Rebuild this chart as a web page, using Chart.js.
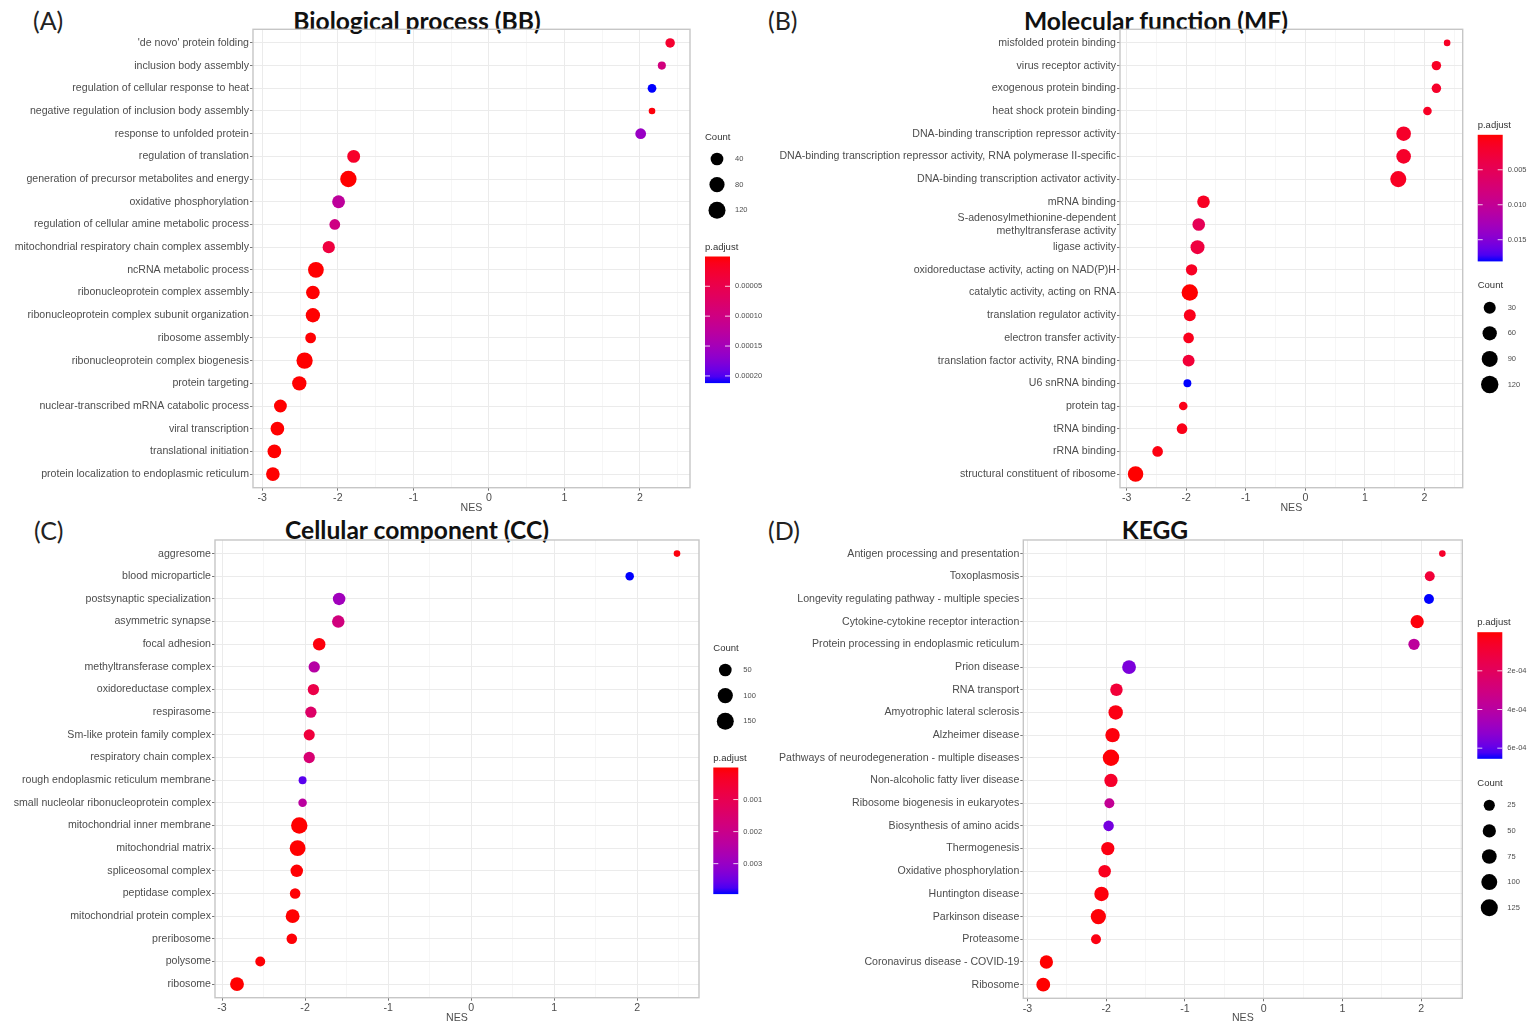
<!DOCTYPE html>
<html>
<head>
<meta charset="utf-8">
<script src="https://cdn.jsdelivr.net/npm/chart.js@4.4.1/dist/chart.umd.min.js"></script>
<style>
  body { margin: 0; background: #fff; width: 1532px; height: 1027px; position: relative; overflow: hidden; }
  canvas { position: absolute; }
  .tag { position: absolute; font-family: Lato, sans-serif; font-size: 25px; color: #222; transform: translateY(-50%); white-space: nowrap; }
  .title { position: absolute; font-family: Lato, sans-serif; font-weight: bold; font-size: 24.6px; color: #111; transform: translate(-50%, -50%); white-space: nowrap; }
</style>
</head>
<body>
<div class="tag" style="left:33px;top:20px">(A)</div>
<div class="tag" style="left:768px;top:20px">(B)</div>
<div class="tag" style="left:34px;top:530px">(C)</div>
<div class="tag" style="left:768px;top:530px">(D)</div>
<div class="title" style="left:417px;top:20px">Biological process (BB)</div>
<div class="title" style="left:1156px;top:20px">Molecular function (MF)</div>
<div class="title" style="left:417px;top:529px">Cellular component (CC)</div>
<div class="title" style="left:1155px;top:529px">KEGG</div>

<canvas id="bp" width="765" height="520" style="left:0;top:0"></canvas>
<canvas id="mf" width="767" height="520" style="left:765px;top:0"></canvas>
<canvas id="cc" width="765" height="507" style="left:0;top:520px"></canvas>
<canvas id="kegg" width="767" height="507" style="left:765px;top:520px"></canvas>

<script>
// Biological process
const bpTerms = ["'de novo' protein folding", "inclusion body assembly", "regulation of cellular response to heat",
  "negative regulation of inclusion body assembly", "response to unfolded protein", "regulation of translation",
  "generation of precursor metabolites and energy", "oxidative phosphorylation",
  "regulation of cellular amine metabolic process", "mitochondrial respiratory chain complex assembly",
  "ncRNA metabolic process", "ribonucleoprotein complex assembly", "ribonucleoprotein complex subunit organization",
  "ribosome assembly", "ribonucleoprotein complex biogenesis", "protein targeting",
  "nuclear-transcribed mRNA catabolic process", "viral transcription", "translational initiation",
  "protein localization to endoplasmic reticulum"];
const bpNES = [2.40, 2.29, 2.16, 2.16, 2.01, -1.79, -1.86, -1.99, -2.04, -2.12, -2.29, -2.33, -2.33, -2.36, -2.44, -2.51, -2.76, -2.80, -2.84, -2.86];
const bpCount = [19, 11, 14, 8, 31, 60, 135, 60, 31, 50, 119, 74, 87, 31, 132, 87, 60, 74, 74, 74];
const bpPadj = [2.5e-5, 9.5e-5, 2.12e-4, 4e-6, 1.6e-4, 2.1e-5, 2e-7, 1.23e-4, 1.0e-4, 3.8e-5, 5e-7, 6e-7, 6e-7, 1.2e-6, 3e-7, 4e-7, 3e-7, 3e-7, 3e-7, 2e-7];
const bpCountBreaks = [40, 80, 120];
const bpPadjBreaks = [0.00005, 0.0001, 0.00015, 0.0002];
const bpPadjLabels = ['0.00005', '0.00010', '0.00015', '0.00020'];

// Molecular function
const mfTerms = ["misfolded protein binding", "virus receptor activity", "exogenous protein binding",
  "heat shock protein binding", "DNA-binding transcription repressor activity",
  "DNA-binding transcription repressor activity, RNA polymerase II-specific",
  "DNA-binding transcription activator activity", "mRNA binding",
  "S-adenosylmethionine-dependent\nmethyltransferase activity", "ligase activity",
  "oxidoreductase activity, acting on NAD(P)H", "catalytic activity, acting on RNA",
  "translation regulator activity", "electron transfer activity", "translation factor activity, RNA binding",
  "U6 snRNA binding", "protein tag", "tRNA binding", "rRNA binding", "structural constituent of ribosome"];
const mfNES = [2.38, 2.20, 2.20, 2.05, 1.65, 1.65, 1.56, -1.71, -1.79, -1.81, -1.91, -1.94, -1.94, -1.96, -1.96, -1.98, -2.05, -2.07, -2.48, -2.85];
const mfCount = [8, 18, 18, 13, 86, 86, 118, 52, 52, 75, 36, 125, 43, 28, 43, 10, 13, 28, 28, 105];
const mfPadj = [0.0015, 0.0015, 0.0018, 0.0015, 0.0018, 0.0018, 0.0014, 0.0014, 0.005, 0.0033, 0.0014, 1e-5, 0.0009, 0.001, 0.0027, 0.0181, 0.0008, 0.0008, 0.0005, 1e-6];
const mfCountBreaks = [30, 60, 90, 120];
const mfPadjBreaks = [0.005, 0.010, 0.015];
const mfPadjLabels = ['0.005', '0.010', '0.015'];

// Cellular component
const ccTerms = ["aggresome", "blood microparticle", "postsynaptic specialization", "asymmetric synapse",
  "focal adhesion", "methyltransferase complex", "oxidoreductase complex", "respirasome",
  "Sm-like protein family complex", "respiratory chain complex", "rough endoplasmic reticulum membrane",
  "small nucleolar ribonucleoprotein complex", "mitochondrial inner membrane", "mitochondrial matrix",
  "spliceosomal complex", "peptidase complex", "mitochondrial protein complex", "preribosome", "polysome", "ribosome"];
const ccNES = [2.48, 1.91, -1.59, -1.60, -1.83, -1.89, -1.90, -1.93, -1.95, -1.95, -2.03, -2.03, -2.07, -2.09, -2.10, -2.12, -2.15, -2.16, -2.54, -2.82];
const ccCount = [10, 16, 68, 68, 68, 47, 47, 47, 44, 47, 13, 16, 170, 151, 68, 36, 98, 36, 28, 98];
const ccPadj = [8e-5, 0.00395, 0.00285, 0.00178, 8e-5, 0.00245, 0.00087, 0.00138, 0.00067, 0.00158, 0.00367, 0.00237, 1e-6, 2e-6, 2e-5, 3e-5, 5e-6, 4e-5, 3e-5, 1e-7];
const ccCountBreaks = [50, 100, 150];
const ccPadjBreaks = [0.001, 0.002, 0.003];
const ccPadjLabels = ['0.001', '0.002', '0.003'];

// KEGG
const keggTerms = ["Antigen processing and presentation", "Toxoplasmosis", "Longevity regulating pathway - multiple species",
  "Cytokine-cytokine receptor interaction", "Protein processing in endoplasmic reticulum", "Prion disease",
  "RNA transport", "Amyotrophic lateral sclerosis", "Alzheimer disease",
  "Pathways of neurodegeneration - multiple diseases", "Non-alcoholic fatty liver disease",
  "Ribosome biogenesis in eukaryotes", "Biosynthesis of amino acids", "Thermogenesis", "Oxidative phosphorylation",
  "Huntington disease", "Parkinson disease", "Proteasome", "Coronavirus disease - COVID-19", "Ribosome"];
const keggNES = [2.27, 2.11, 2.10, 1.95, 1.91, -1.71, -1.87, -1.88, -1.92, -1.94, -1.94, -1.96, -1.97, -1.98, -2.02, -2.06, -2.10, -2.13, -2.76, -2.80];
const keggCount = [10, 25, 25, 70, 40, 81, 57, 93, 93, 140, 70, 25, 31, 70, 57, 93, 111, 25, 70, 81];
const keggPadj = [6.5e-5, 1e-4, 6.55e-4, 1.3e-5, 3.8e-4, 5.57e-4, 1e-4, 2e-5, 1.3e-5, 6e-6, 6.5e-5, 3.6e-4, 5.7e-4, 2e-5, 4e-5, 1.3e-5, 6e-6, 2e-5, 1e-7, 1e-7];
const keggCountBreaks = [25, 50, 75, 100, 125];
const keggPadjBreaks = [0.0002, 0.0004, 0.0006];
const keggPadjLabels = ['2e-04', '4e-04', '6e-04'];

const tickFont = { family: '"Liberation Sans", Arial, sans-serif', size: 10.6 };
const textGrey = '#4d4d4d';

// red -> blue through Lab, like ggplot's gradient
function toLab(rgb) {
  const lin = v => { v /= 255; return v <= 0.04045 ? v / 12.92 : Math.pow((v + 0.055) / 1.055, 2.4); };
  const R = lin(rgb[0]), G = lin(rgb[1]), B = lin(rgb[2]);
  const X = (0.4124564 * R + 0.3575761 * G + 0.1804375 * B) / 0.95047;
  const Y = 0.2126729 * R + 0.7151522 * G + 0.0721750 * B;
  const Z = (0.0193339 * R + 0.1191920 * G + 0.9503041 * B) / 1.08883;
  const f = t => t > 0.008856 ? Math.cbrt(t) : 7.787 * t + 16 / 116;
  return [116 * f(Y) - 16, 500 * (f(X) - f(Y)), 200 * (f(Y) - f(Z))];
}
function fromLab(lab) {
  const fy = (lab[0] + 16) / 116, fx = fy + lab[1] / 500, fz = fy - lab[2] / 200;
  const inv = t => t * t * t > 0.008856 ? t * t * t : (t - 16 / 116) / 7.787;
  const X = inv(fx) * 0.95047, Y = inv(fy), Z = inv(fz) * 1.08883;
  const R = 3.2404542 * X - 1.5371385 * Y - 0.4985314 * Z;
  const G = -0.9692660 * X + 1.8760108 * Y + 0.0415560 * Z;
  const B = 0.0556434 * X - 0.2040259 * Y + 1.0572252 * Z;
  const gam = v => { v = Math.min(1, Math.max(0, v)); return Math.round(255 * (v <= 0.0031308 ? 12.92 * v : 1.055 * Math.pow(v, 1 / 2.4) - 0.055)); };
  return `rgb(${gam(R)},${gam(G)},${gam(B)})`;
}
const labRed = toLab([255, 0, 0]), labBlue = toLab([0, 0, 255]);
function mixLab(t) {
  return fromLab(labRed.map((v, i) => v + (labBlue[i] - v) * t));
}

function sizeScale(counts) {
  const lo = Math.min(...counts), hi = Math.max(...counts);
  return c => 3.3 + 4.9 * Math.sqrt(Math.max(0, (c - lo) / (hi - lo)));
}

const frame = {
  id: 'frame',
  afterDraw(chart) {
    const { ctx, chartArea: a } = chart;
    ctx.save();
    ctx.strokeStyle = '#c6c6c6';
    ctx.lineWidth = 1.4;
    ctx.strokeRect(a.left, a.top, a.right - a.left, a.bottom - a.top);
    ctx.restore();
  }
};

function dotLegend(L, countBreaks, radius, padjBreaks, padjLabels, pLo, pHi) {
  return {
    id: 'dotLegend',
    afterDraw(chart) {
      const ctx = chart.ctx;
      const x = L.legendX;
      ctx.save();
      ctx.textBaseline = 'middle';
      ctx.textAlign = 'left';

      ctx.fillStyle = '#333';
      ctx.font = '9.5px "Liberation Sans", Arial, sans-serif';
      ctx.fillText('Count', x, L.countY);
      countBreaks.forEach((c, i) => {
        const y = L.countY + 22 + i * 25.6;
        ctx.beginPath();
        ctx.arc(x + 12, y, radius(c) + 0.6, 0, Math.PI * 2);
        ctx.fillStyle = '#000';
        ctx.fill();
        ctx.fillStyle = textGrey;
        ctx.font = '7.5px "Liberation Sans", Arial, sans-serif';
        ctx.fillText(String(c), x + 30, y);
      });

      ctx.fillStyle = '#333';
      ctx.font = '9.5px "Liberation Sans", Arial, sans-serif';
      ctx.fillText('p.adjust', x, L.padjY);
      const top = L.padjY + 9.5, h = 126.6, w = 25;
      const g = ctx.createLinearGradient(0, top, 0, top + h);
      for (let k = 0; k <= 20; k++) g.addColorStop(k / 20, mixLab(k / 20));
      ctx.fillStyle = g;
      ctx.fillRect(x, top, w, h);
      padjBreaks.forEach((b, i) => {
        const y = top + (b - pLo) / (pHi - pLo) * h;
        ctx.strokeStyle = 'rgba(255,255,255,0.8)';
        ctx.lineWidth = 1;
        ctx.beginPath();
        ctx.moveTo(x, y); ctx.lineTo(x + 5, y);
        ctx.moveTo(x + w - 5, y); ctx.lineTo(x + w, y);
        ctx.stroke();
        ctx.fillStyle = textGrey;
        ctx.font = '7.5px "Liberation Sans", Arial, sans-serif';
        ctx.fillText(padjLabels[i], x + 30, y);
      });
      ctx.restore();
    }
  };
}

function makePanel(id, terms, nes, counts, padj, countBreaks, padjBreaks, padjLabels, L) {
  const lo = Math.min(...nes), hi = Math.max(...nes), pad = (hi - lo) * 0.05;
  const xMin = lo - pad, xMax = hi + pad;
  const pLo = Math.min(...padj), pHi = Math.max(...padj);
  const radius = sizeScale(counts);
  const colour = p => mixLab((p - pLo) / (pHi - pLo));
  const xTicks = [];
  for (let v = Math.ceil(xMin * 2) / 2; v <= xMax; v += 0.5) xTicks.push(v);
  const isMajor = c => c.tick && Number.isInteger(c.tick.value);

  new Chart(document.getElementById(id), {
    type: 'scatter',
    data: {
      datasets: [{
        data: nes.map((x, i) => ({ x: x, y: i })),
        pointRadius: counts.map(radius),
        pointHoverRadius: counts.map(radius),
        backgroundColor: padj.map(colour),
        borderWidth: 0
      }]
    },
    options: {
      responsive: false,
      animation: false,
      events: [],
      layout: { padding: { left: 0, top: L.top, right: L.right, bottom: 0 } },
      plugins: { legend: { display: false }, tooltip: { enabled: false } },
      scales: {
        x: {
          type: 'linear', min: xMin, max: xMax,
          afterBuildTicks: s => { s.ticks = xTicks.map(v => ({ value: v })); },
          afterFit: s => { s.height = L.xHeight; },
          ticks: {
            autoSkip: false, maxRotation: 0, padding: 1, color: textGrey, font: tickFont,
            callback: v => Number.isInteger(v) ? String(v) : ''
          },
          grid: {
            color: c => isMajor(c) ? '#ebebeb' : '#f6f6f6',
            tickLength: 3,
            tickColor: c => isMajor(c) ? '#777' : 'rgba(0,0,0,0)'
          },
          border: { display: false },
          title: { display: true, text: 'NES', color: textGrey, font: tickFont, padding: { top: 0, bottom: L.titlePad } }
        },
        y: {
          type: 'linear', reverse: true, min: -0.6, max: terms.length - 0.4,
          afterBuildTicks: s => { s.ticks = terms.map((t, i) => ({ value: i })); },
          afterFit: s => { s.width = L.yWidth; },
          ticks: { autoSkip: false, padding: 1, color: textGrey, font: tickFont, callback: v => terms[v].split('\n') },
          grid: { color: '#ebebeb', tickLength: 3, tickColor: '#777' },
          border: { display: false }
        }
      }
    },
    plugins: [frame, dotLegend(L, countBreaks, radius, padjBreaks, padjLabels, pLo, pHi)]
  });
}

makePanel('bp', bpTerms, bpNES, bpCount, bpPadj, bpCountBreaks, bpPadjBreaks, bpPadjLabels,
  { yWidth: 253, top: 29.3, right: 75, xHeight: 32.3, titlePad: 6, legendX: 705, countY: 137, padjY: 247 });
makePanel('mf', mfTerms, mfNES, mfCount, mfPadj, mfCountBreaks, mfPadjBreaks, mfPadjLabels,
  { yWidth: 355, top: 29.3, right: 69.3, xHeight: 32.3, titlePad: 6, legendX: 712.7, countY: 285.7, padjY: 125.3 });
makePanel('cc', ccTerms, ccNES, ccCount, ccPadj, ccCountBreaks, ccPadjBreaks, ccPadjLabels,
  { yWidth: 215, top: 20, right: 66, xHeight: 29.3, titlePad: 3, legendX: 713.3, countY: 128, padjY: 238 });
makePanel('kegg', keggTerms, keggNES, keggCount, keggPadj, keggCountBreaks, keggPadjBreaks, keggPadjLabels,
  { yWidth: 258.3, top: 20, right: 69.7, xHeight: 28.7, titlePad: 3, legendX: 712.3, countY: 263.3, padjY: 102.7 });
</script>
</body>
</html>
